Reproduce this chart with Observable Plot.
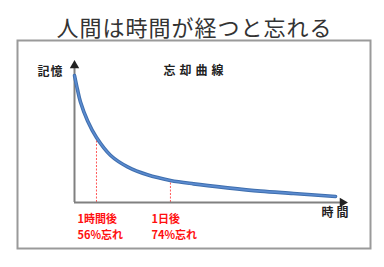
<!DOCTYPE html>
<html>
<head>
<meta charset="utf-8">
<script src="https://cdn.jsdelivr.net/npm/d3@7"></script>
<script src="https://cdn.jsdelivr.net/npm/@observablehq/plot@0.6"></script>
<style>
  html, body { margin: 0; padding: 0; background: #fff; }
</style>
</head>
<body>
<div id="chart"></div>
<script>
// Forgetting curve (time in arbitrary units, memory in %)
const times  = [0, 1.1, 2.2, 4.9, 8.2, 13.4, 19.8, 27.2, 35.8, 44.4, 57.1, 69.4, 81.7, 97.4];
const memory = [92.7, 82.5, 73.5, 59.5, 47.4, 34.5, 26.0, 20.2, 16.1, 13.6, 10.7, 8.3, 6.6, 4.4];

// Annotated moments
const markerTimes  = [8.2, 35.8];
const markerMemory = [47.4, 16.1];
const markerLabels = ["1時間後", "1日後"];
const forgotLabels = ["56%忘れ", "74%忘れ"];

const title = "人間は時間が経つと忘れる";
const curveTitle = "忘却曲線";
const yLabel = "記憶";
const xLabel = "時間";

const xDomain = [0, 100];
const yDomain = [0, 100];

const curve = times.map((t, i) => ({t, m: memory[i]}));
const markers = markerTimes.map((t, i) => ({t, m: markerMemory[i], label: markerLabels[i] + "\n" + forgotLabels[i]}));

const font = "'Noto Sans CJK JP', 'Noto Sans', sans-serif";

const chart = Plot.plot({
  width: 384,
  height: 267,
  marginLeft: 74,
  marginRight: 42,
  marginTop: 65,
  marginBottom: 65,
  x: {domain: xDomain, axis: null},
  y: {domain: yDomain, axis: null},
  style: {fontFamily: font, background: "#fff", overflow: "visible"},
  marks: [
    Plot.frame({stroke: "#9a9a9a", strokeWidth: 2, insetLeft: -57, insetTop: -25, insetRight: -28, insetBottom: -46}),
    Plot.text([title], {frameAnchor: "top", dx: -14, dy: -45, fontSize: 22, fill: "#333", fontWeight: 400}),
    Plot.text([curveTitle], {frameAnchor: "top-left", textAnchor: "middle", dx: 121, dy: 1, fontSize: 12, fontWeight: "bold", fill: "#222"}),
    Plot.text([yLabel], {frameAnchor: "top-left", textAnchor: "middle", dx: -24, dy: 2, fontSize: 12, fontWeight: "bold", fill: "#222"}),
    Plot.text([xLabel], {frameAnchor: "bottom-right", textAnchor: "middle", dx: -6, dy: 14, fontSize: 12, fontWeight: "bold", fill: "#222"}),
    // red guides
    Plot.ruleX(markers, {x: "t", y1: yDomain[0], y2: "m", stroke: "#ff3030", strokeWidth: 1, strokeDasharray: "2,1.5", strokeOpacity: 0.8}),
    Plot.text(markers, {x: "t", y: yDomain[0], text: "label", textAnchor: "start", lineAnchor: "top", dx: -19, dy: 9, fill: "#ff1010", fontSize: 11, fontWeight: "bold", lineHeight: 1.45}),
    // axes
    Plot.ruleX([xDomain[0]], {y1: yDomain[0], y2: yDomain[1], stroke: "#808080", strokeWidth: 2}),
    Plot.ruleY([yDomain[0]], {x1: xDomain[0], x2: xDomain[1], stroke: "#808080", strokeWidth: 2}),
    Plot.dot([yDomain[1]], {x: xDomain[0], y: d => d, symbol: "triangle", r: 3.5, fill: "#222", stroke: "none"}),
    Plot.dot([xDomain[1]], {x: d => d, y: yDomain[0], symbol: "triangle", rotate: 90, r: 3.5, fill: "#222", stroke: "none"}),
    // curve
    Plot.line(curve, {x: "t", y: "m", curve: "catmull-rom", stroke: "#3f6fae", strokeWidth: 3.6}),
    Plot.line(curve, {x: "t", y: "m", curve: "catmull-rom", stroke: "#5b8bd0", strokeWidth: 1.6})
  ]
});

d3.select(chart).selectAll("text").each(function() {
  const s = this.textContent;
  if (s === curveTitle) d3.select(this).attr("letter-spacing", 4);
  if (s === yLabel) d3.select(this).attr("letter-spacing", 1);
  if (s === xLabel) d3.select(this).attr("letter-spacing", 3);
  if (s === title) d3.select(this).attr("letter-spacing", 1);
});

document.getElementById("chart").appendChild(chart);
</script>
</body>
</html>
